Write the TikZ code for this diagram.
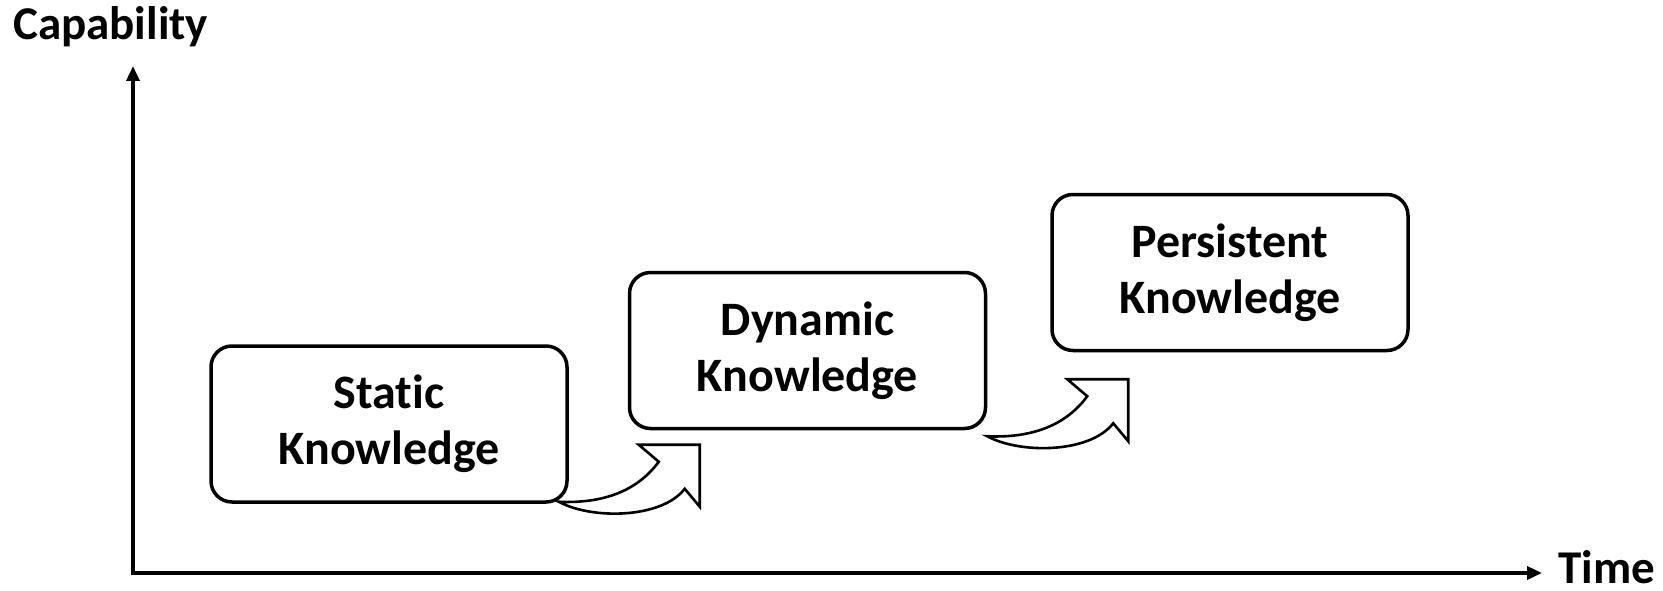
\documentclass[tikz,border=0pt]{standalone}
\usepackage{fontspec}
\setmainfont[Ligatures={NoCommon}]{Carlito}
\usetikzlibrary{arrows.meta}
\tikzset{
  kbox/.style={draw=black, line width=3.5pt, rounded corners=21pt, minimum width=356pt, minimum height=156pt, align=center, inner sep=0pt, fill=white, font=\fontsize{48}{56}\selectfont\bfseries},
  axis/.style={line width=3.5pt, -{Triangle[length=15pt,width=13pt]}},
  lbl/.style={font=\fontsize{47}{56}\selectfont\bfseries, inner sep=0pt},
  curvarrow/.pic={
    \draw[line width=2.6pt, fill=white, line join=miter]
      (0,0) .. controls (43,2) and (78,-10) .. (100,-40)
      -- (80,-57) -- (141,-57) -- (141,5) -- (126,-13)
      .. controls (103,17) and (33,18) .. (0,0) -- cycle;
  }
}
\begin{document}
\begin{tikzpicture}[x=1pt,y=-1pt]
\useasboundingbox (0,0) rectangle (1663,591);
\coordinate (origin) at (133,573);
\coordinate (ytip) at (133,66);
\coordinate (xtip) at (1542,573);
\draw[axis] (origin) -- (ytip);
\draw[axis] ([xshift=-1.75pt]origin) -- (xtip);
\node[lbl, anchor=base west] (cap) at (13,40) {Capability};
\node[lbl, anchor=base west] (time) at (1558,583) {Time};
\node[kbox] (static) at (389,424) {Static\\Knowledge};
\node[kbox] (dynamic) at (807.5,350.5) {Dynamic\\Knowledge};
\node[kbox] (persist) at (1230,272.5) {Persistent\\Knowledge};
\coordinate (a1) at ([xshift=-10pt,yshift=2pt]static.south east);
\coordinate (a2) at ([xshift=0pt,yshift=-6pt]dynamic.south east);
\pic at (a1) {curvarrow};
\pic at (a2) {curvarrow};
\end{tikzpicture}
\end{document}
